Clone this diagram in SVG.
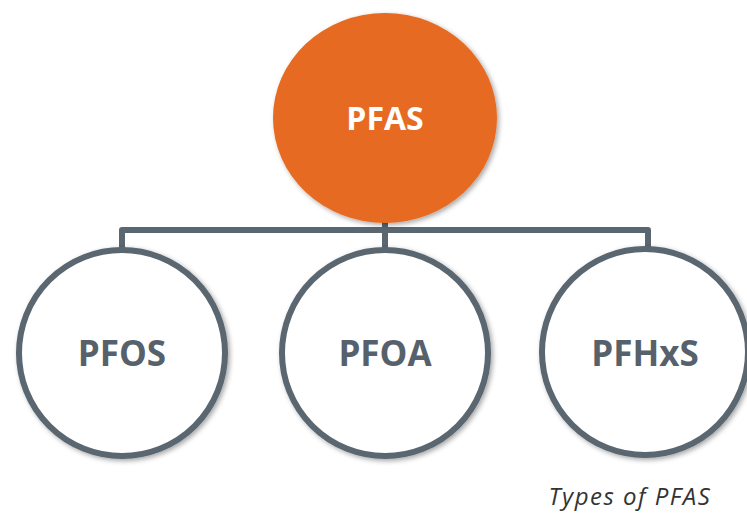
<svg xmlns="http://www.w3.org/2000/svg" width="747" height="513" viewBox="0 0 747 513">
<defs>
<filter id="sh" x="-20%" y="-20%" width="140%" height="140%">
<feDropShadow dx="2" dy="2" stdDeviation="2.5" flood-color="#000" flood-opacity="0.35"/>
</filter>
<style>
.child{fill:#fff;stroke:#5a6670;stroke-width:6;filter:url(#sh)}
.lbl{font-family:"Open Sans","Liberation Sans",sans-serif;font-weight:bold;font-size:35px;fill:#56616c;text-anchor:middle}
.conn{fill:none;stroke:#5a6670;stroke-width:6;stroke-linejoin:round}
</style>
</defs>
<rect width="747" height="513" fill="#fff"/>
<g id="connectors">
<path class="conn" d="M122 250 V230 H648 V250"/>
<path class="conn" d="M385 215 V250"/>
</g>
<g id="pfas">
<ellipse cx="385" cy="118" rx="112" ry="105" fill="#e66b20" filter="url(#sh)"/>
<text x="385" y="130" class="lbl" style="fill:#fff;font-size:32px">PFAS</text>
</g>
<g id="pfos">
<circle class="child" cx="122" cy="353" r="103"/>
<text x="122" y="366" class="lbl">PFOS</text>
</g>
<g id="pfoa">
<circle class="child" cx="385" cy="353" r="103"/>
<text x="385" y="366" class="lbl">PFOA</text>
</g>
<g id="pfhxs">
<circle class="child" cx="645" cy="352" r="103"/>
<text x="645" y="366" class="lbl">PFHxS</text>
</g>
<text x="630" y="505" text-anchor="middle" font-family="Open Sans, Liberation Sans, sans-serif" font-style="italic" font-size="24" letter-spacing="1.5" fill="#333">Types of PFAS</text>
</svg>
